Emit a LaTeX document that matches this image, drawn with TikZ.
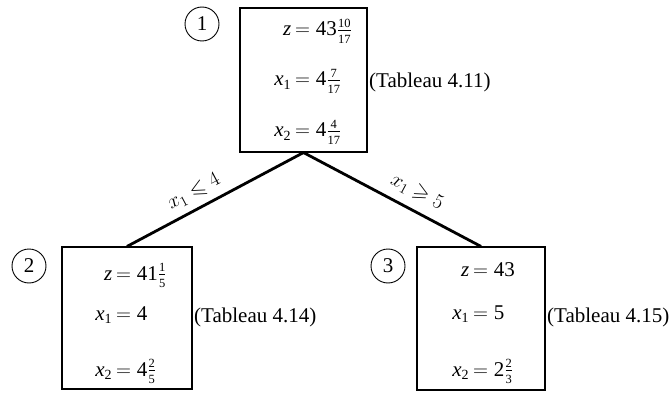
\documentclass[tikz,border=0pt]{standalone}
\usepackage{amsmath,amssymb}
\usepackage{fontspec}
\setmainfont{Liberation Serif}
\newcommand{\fr}[2]{\frac{\text{\fontsize{12.5}{12.5}\selectfont #1}}{\text{\fontsize{12.5}{12.5}\selectfont #2}}}
\newcommand{\vz}{\textit{z}}
\newcommand{\vx}[1]{\textit{x}_{\text{\fontsize{14}{14}\selectfont #1}}}
\newcommand{\eqline}[2]{\llap{$#1$\hspace{4pt}}$=#2$}
\begin{document}
\begin{tikzpicture}[x=1pt,y=-1pt,
  font=\fontsize{21}{25}\selectfont,
  box/.style={draw,line width=1.1pt,minimum width=#1,inner sep=0pt},
  num/.style={draw,circle,line width=0.9pt,minimum size=34pt,inner sep=0pt},
  eqn/.style={anchor=base west,inner sep=0pt},
  tab/.style={anchor=base west,inner sep=0pt},
  branch/.style={line width=2.8pt},
  blabel/.style={font=\fontsize{21}{24}\selectfont,inner sep=0pt}]
\useasboundingbox (0,0) rectangle (672,393);
% boxes
\node[box=127pt,minimum height=144pt] (b1) at (303.5,80) {};
\node[box=130pt,minimum height=142pt] (b2) at (127,318) {};
\node[box=128pt,minimum height=143pt] (b3) at (481,318.5) {};
% circles
\node[num] (c1) at (202,24) {1};
\node[num] (c2) at (29,266) {2};
\node[num] (c3) at (388,266) {3};
% box 1 text
\node[eqn] (b1z) at (295,36) {\eqline{\vz}{\text{43}\fr{10}{17}}};
\node[eqn] (b1a) at (295,86) {\eqline{\vx{1}}{\text{4}\fr{7}{17}}};
\node[eqn] (b1b) at (295,137) {\eqline{\vx{2}}{\text{4}\fr{4}{17}}};
\node[tab] (t1) at (369,88) {(Tableau 4.11)};
% box 2 text
\node[eqn] (b2z) at (116,280) {\eqline{\vz}{\text{41}\fr{1}{5}}};
\node[eqn] (b2a) at (116,320) {\eqline{\vx{1}}{\text{4}}};
\node[eqn] (b2b) at (116,376) {\eqline{\vx{2}}{\text{4}\fr{2}{5}}};
\node[tab] (t2) at (194,322) {(Tableau 4.14)};
% box 3 text
\node[eqn] (b3z) at (473,276) {\eqline{\vz}{\text{43}}};
\node[eqn] (b3a) at (473,319) {\eqline{\vx{1}}{\text{5}}};
\node[eqn] (b3b) at (473,376) {\eqline{\vx{2}}{\text{2}\fr{2}{3}}};
\node[tab] (t3) at (547,322) {(Tableau 4.15)};
% branches
\draw[branch] (b1.south) -- (b2.north);
\draw[branch] (b1.south) -- (b3.north);
\node[blabel,rotate=28] (l1) at (194,192) {$x_1 \leqslant 4$};
\node[blabel,rotate=-28] (l2) at (417,192) {$x_1 \geqslant 5$};
\end{tikzpicture}
\end{document}
